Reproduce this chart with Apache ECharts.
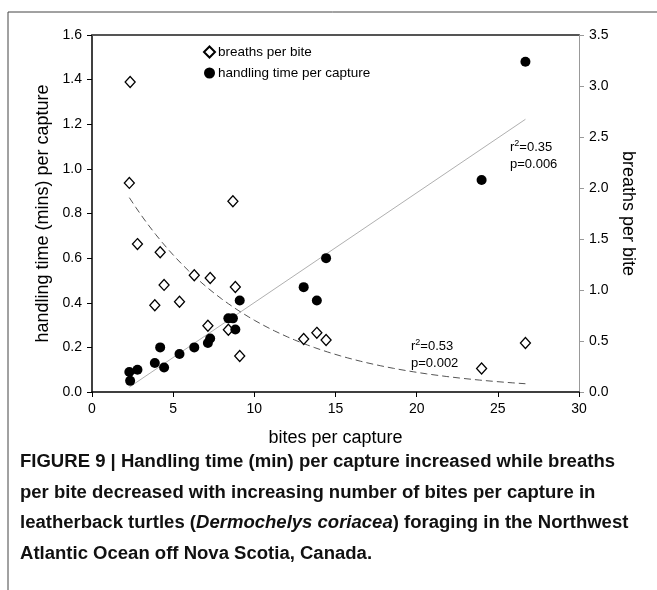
<!DOCTYPE html>
<html>
<head>
<meta charset="utf-8">
<script src="https://cdn.jsdelivr.net/npm/echarts@6/dist/echarts.min.js"></script>
<style>html,body{margin:0;padding:0;background:#fff}#c{width:657px;height:590px}</style>
</head>
<body>
<div id="c"></div>
<script>
// bites per capture (shared x for both series)
const bites = [2.3, 2.35, 2.8, 3.87, 4.2, 4.44, 5.39, 6.3, 7.14, 7.28, 8.4, 8.68, 8.83, 9.1, 13.04, 13.85, 14.42, 24.0, 26.7];
// handling time (mins) per capture, left axis
const handlingTime = [0.09, 0.05, 0.10, 0.13, 0.20, 0.11, 0.17, 0.20, 0.22, 0.24, 0.33, 0.33, 0.28, 0.41, 0.47, 0.41, 0.60, 0.95, 1.48];
// breaths per bite, right axis
const breathsPerBite = [2.05, 3.04, 1.45, 0.85, 1.37, 1.05, 0.885, 1.144, 0.65, 1.118, 0.61, 1.87, 1.03, 0.353, 0.52, 0.58, 0.51, 0.23, 0.48];
// fitted models
const linFit = { slope: 0.0492, intercept: -0.0914, from: 2.3, to: 26.7 };
const expFit = { a: 2.566, b: 0.1294, from: 2.3, to: 26.7 };
const xTicks = { min: 0, max: 30, interval: 5 };
const yLeftTicks = { min: 0, max: 1.6, interval: 0.2 };
const yRightTicks = { min: 0, max: 3.5, interval: 0.5 };
const captionLines = [
  'FIGURE 9 | Handling time (min) per capture increased while breaths',
  'per bite decreased with increasing number of bites per capture in',
  'leatherback turtles (', 'Dermochelys coriacea', ') foraging in the Northwest',
  'Atlantic Ocean off Nova Scotia, Canada.'
];

const FONT = '"Liberation Sans", Arial, sans-serif';

const linLine = [linFit.from, linFit.to].map(x => [x, linFit.intercept + linFit.slope * x]);
const expLine = [];
for (let i = 0; i <= 60; i++) {
  const x = expFit.from + (expFit.to - expFit.from) * i / 60;
  expLine.push([x, expFit.a * Math.exp(-expFit.b * x)]);
}

// caption horizontal squeeze to mimic the condensed bold face
const mctx = document.createElement('canvas').getContext('2d');
mctx.font = 'bold 18px "Liberation Sans", Arial, sans-serif';
const capW = mctx.measureText(captionLines[0]).width;
const capScale = 595 / capW;

const chart = echarts.init(document.getElementById('c'), null, { renderer: 'canvas' });
chart.setOption({
  animation: false,
  backgroundColor: '#fff',
  textStyle: { fontFamily: FONT, color: '#000' },
  grid: { left: 92, right: 78, top: 35, bottom: 198, containLabel: false },
  legend: {
    orient: 'vertical', left: 198, top: 40, itemWidth: 11, itemHeight: 11, itemGap: 7,
    textStyle: { fontFamily: FONT, fontSize: 13.5, color: '#000', padding: [0, 0, 0, -2] },
    data: ['breaths per bite', 'handling time per capture']
  },
  xAxis: [{
    type: 'value', min: xTicks.min, max: xTicks.max, interval: xTicks.interval,
    name: 'bites per capture', nameLocation: 'middle', nameGap: 37,
    nameTextStyle: { fontFamily: FONT, fontSize: 18, color: '#000' },
    axisLine: { lineStyle: { color: '#000', width: 1.5 } },
    axisTick: { show: true, length: 5, inside: false, lineStyle: { color: '#000' } },
    axisLabel: { fontFamily: FONT, fontSize: 14, color: '#000', margin: 10 },
    splitLine: { show: false }
  }, {
    type: 'value', position: 'top', min: xTicks.min, max: xTicks.max,
    axisLine: { show: true, onZero: false, lineStyle: { color: '#555', width: 2 } },
    axisTick: { show: false }, axisLabel: { show: false }, splitLine: { show: false }
  }],
  yAxis: [{
    type: 'value', position: 'left', min: yLeftTicks.min, max: yLeftTicks.max, interval: yLeftTicks.interval,
    name: 'handling time (mins) per capture', nameLocation: 'middle', nameGap: 35, nameRotate: 90,
    nameTextStyle: { fontFamily: FONT, fontSize: 18, color: '#000' },
    axisLine: { show: true, onZero: false, lineStyle: { color: '#000', width: 1.5 } },
    axisTick: { show: true, length: 5, lineStyle: { color: '#000' } },
    axisLabel: { fontFamily: FONT, fontSize: 14, color: '#000', margin: 10, formatter: v => v.toFixed(1) },
    splitLine: { show: false }
  }, {
    type: 'value', position: 'right', min: yRightTicks.min, max: yRightTicks.max, interval: yRightTicks.interval,
    name: 'breaths per bite', nameLocation: 'middle', nameGap: 31, nameRotate: -90,
    nameTextStyle: { fontFamily: FONT, fontSize: 18, color: '#000' },
    axisLine: { show: true, onZero: false, lineStyle: { color: '#999', width: 1 } },
    axisTick: { show: true, length: 5, lineStyle: { color: '#999' } },
    axisLabel: { fontFamily: FONT, fontSize: 14, color: '#000', margin: 10, formatter: v => v.toFixed(1) },
    splitLine: { show: false }
  }],
  series: [{
    type: 'line', name: 'linfit', yAxisIndex: 0, data: linLine, showSymbol: false, symbol: 'none',
    lineStyle: { color: '#b0b0b0', width: 1 }, z: 1, silent: true
  }, {
    type: 'line', name: 'expfit', yAxisIndex: 1, data: expLine, showSymbol: false, symbol: 'none', smooth: false,
    lineStyle: { color: '#555', width: 1, type: [7, 4] }, z: 1, silent: true
  }, {
    type: 'scatter', name: 'breaths per bite', yAxisIndex: 1,
    data: bites.map((x, i) => [x, breathsPerBite[i]]),
    symbol: 'diamond', symbolSize: [10, 11],
    itemStyle: { color: '#fff', borderColor: '#000', borderWidth: 1.3, opacity: 1 }, z: 3
  }, {
    type: 'scatter', name: 'handling time per capture', yAxisIndex: 0,
    data: bites.map((x, i) => [x, handlingTime[i]]),
    symbol: 'circle', symbolSize: 10,
    itemStyle: { color: '#000', opacity: 1 }, z: 4
  }],
  graphic: [
    { type: 'line', shape: { x1: 8, y1: 12, x2: 657, y2: 12 }, style: { stroke: '#444', lineWidth: 1 } },
    { type: 'line', shape: { x1: 8, y1: 12, x2: 8, y2: 590 }, style: { stroke: '#444', lineWidth: 1 } },
    { type: 'text', left: 510, top: 139, style: {
      text: '{n|r}{s|2}{n|=0.35}\n{n|p=0.006}', lineHeight: 17,
      rich: { n: { fontFamily: FONT, fontSize: 13, fill: '#000', lineHeight: 17 },
              s: { fontFamily: FONT, fontSize: 9, fill: '#000', verticalAlign: 'top', lineHeight: 17, padding: [0, 0, 5, 0] } } } },
    { type: 'text', left: 411, top: 338, style: {
      text: '{n|r}{s|2}{n|=0.53}\n{n|p=0.002}', lineHeight: 17,
      rich: { n: { fontFamily: FONT, fontSize: 13, fill: '#000', lineHeight: 17 },
              s: { fontFamily: FONT, fontSize: 9, fill: '#000', verticalAlign: 'top', lineHeight: 17, padding: [0, 0, 5, 0] } } } },
    { type: 'text', x: 20, y: 447, scaleX: capScale, style: {
      text: '{b|' + captionLines[0] + '}\n{b|' + captionLines[1] + '}\n{b|' + captionLines[2] + '}{i|' + captionLines[3] + '}{b|' + captionLines[4] + '}\n{b|' + captionLines[5] + '}',
      rich: {
        b: { fontFamily: FONT, fontWeight: 'bold', fontSize: 18, fill: '#111', lineHeight: 30.5 },
        i: { fontFamily: FONT, fontWeight: 'bold', fontStyle: 'italic', fontSize: 18, fill: '#111', lineHeight: 30.5 }
      } } }
  ]
});
</script>
</body>
</html>
